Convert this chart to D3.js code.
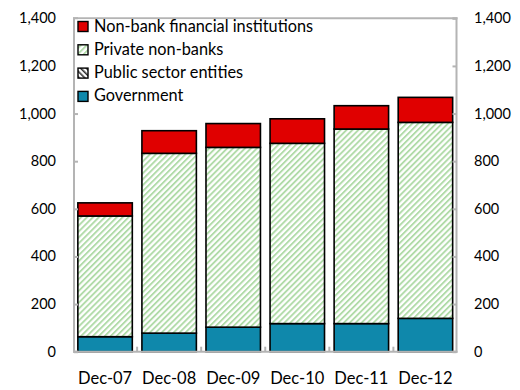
<!DOCTYPE html>
<html><head><meta charset="utf-8">
<script src="https://cdn.jsdelivr.net/npm/d3@7"></script>
<style>body{margin:0;background:#fff}svg{display:block}text{font-family:Lato,"Open Sans",sans-serif;fill:#000}</style>
</head><body><svg id="c" width="520" height="390"></svg>
<script>
const categories = ["Dec-07","Dec-08","Dec-09","Dec-10","Dec-11","Dec-12"];
const government = [63, 78, 103, 118, 118, 140];
const publicSector = [0, 0, 0, 0, 0, 0];
const privateNonBanks = [507, 755, 755, 757, 817, 823];
const nonBankFinancial = [55, 95, 100, 103, 98, 105];
const yTicks = [0,200,400,600,800,1000,1200,1400];
const seriesNames = ["Government","Public sector entities","Private non-banks","Non-bank financial institutions"];

const svg = d3.select("#c");
const L=74, R=456.5, T=18.3, B=351.7;
const x = d3.scaleBand().domain(categories).range([L,R]).paddingInner(0.15).paddingOuter(0.06);
const y = d3.scaleLinear().domain([0,1400]).range([B,T]);

const defs = svg.append("defs");
const pg = defs.append("pattern").attr("id","hGreen").attr("patternUnits","userSpaceOnUse")
  .attr("width",4.2).attr("height",4.2).attr("patternTransform","rotate(45)");
pg.append("rect").attr("width",4.2).attr("height",4.2).attr("fill","#fff");
pg.append("rect").attr("width",1.9).attr("height",4.2).attr("fill","#b0dba8");
const pb = defs.append("pattern").attr("id","hBlack").attr("patternUnits","userSpaceOnUse")
  .attr("width",4).attr("height",4).attr("patternTransform","rotate(-45)");
pb.append("rect").attr("width",4).attr("height",4).attr("fill","#fff");
pb.append("rect").attr("width",1.6).attr("height",4).attr("fill","#333");

const fills = {"Government":"#0f88ab","Public sector entities":"url(#hBlack)","Private non-banks":"url(#hGreen)","Non-bank financial institutions":"#e00000"};

const rows = categories.map((c,i)=>({cat:c,"Government":government[i],"Public sector entities":publicSector[i],"Private non-banks":privateNonBanks[i],"Non-bank financial institutions":nonBankFinancial[i]}));
const stack = d3.stack().keys(seriesNames)(rows);

stack.forEach(s=>{
  svg.append("g").selectAll("rect").data(s.filter(d=>d[1]-d[0]>0)).join("rect")
    .attr("x",d=>x(d.data.cat)).attr("width",x.bandwidth())
    .attr("y",d=>y(d[1])).attr("height",d=>y(d[0])-y(d[1]))
    .attr("fill",fills[s.key]).attr("stroke","#000").attr("stroke-width",1.6);
});

const axC="#b4b4b4";
const gl = svg.append("g").attr("transform",`translate(${L},0)`).call(d3.axisRight(y).tickValues(yTicks).tickSize(4).tickFormat(""));
const gr = svg.append("g").attr("transform",`translate(${R},0)`).call(d3.axisLeft(y).tickValues(yTicks).tickSize(4).tickFormat(""));
[gl,gr].forEach(g=>{g.selectAll("path,line").attr("stroke",axC).attr("stroke-width",2);});
gl.select(".domain").attr("d",`M4,${T}H0V${B}H4`);
gr.select(".domain").attr("d",`M-4,${T}H0V${B}H-4`);
svg.append("line").attr("x1",L-1).attr("x2",R+1).attr("y1",T).attr("y2",T).attr("stroke",axC).attr("stroke-width",2);
svg.append("line").attr("x1",L-1).attr("x2",R+1).attr("y1",B).attr("y2",B).attr("stroke",axC).attr("stroke-width",2);
const step = x.step();
categories.slice(1).forEach(c=>{
  const xx = x(c) - (step - x.bandwidth())/2;
  svg.append("line").attr("x1",xx).attr("x2",xx).attr("y1",B).attr("y2",B-5).attr("stroke",axC).attr("stroke-width",2);
});

const fmt = d3.format(",");
svg.append("g").selectAll("text").data(yTicks).join("text")
  .attr("x",56).attr("y",d=>y(d)+5).attr("text-anchor","end").attr("font-size",14.5).text(fmt);
svg.append("g").selectAll("text").data(yTicks).join("text")
  .attr("x",474).attr("y",d=>y(d)+5).attr("text-anchor","start").attr("font-size",14.5).text(fmt);
svg.append("g").selectAll("text").data(categories).join("text")
  .attr("x",d=>x(d)+x.bandwidth()/2).attr("y",384).attr("text-anchor","middle").attr("font-size",16.5).text(d=>d);

const legendOrder = ["Non-bank financial institutions","Private non-banks","Public sector entities","Government"];
const lg = svg.append("g");
lg.append("rect").attr("x",L+1).attr("y",T+1).attr("width",245).attr("height",92).attr("fill","#fff");
legendOrder.forEach((k,i)=>{
  const yy = 26 + i*23.3;
  lg.append("rect").attr("x",78).attr("y",yy-4.5).attr("width",10).attr("height",10)
    .attr("fill",fills[k]).attr("stroke","#000").attr("stroke-width",1.4);
  lg.append("text").attr("x",94).attr("y",yy+5.5).attr("font-size",16.3).text(k);
});
</script></body></html>
